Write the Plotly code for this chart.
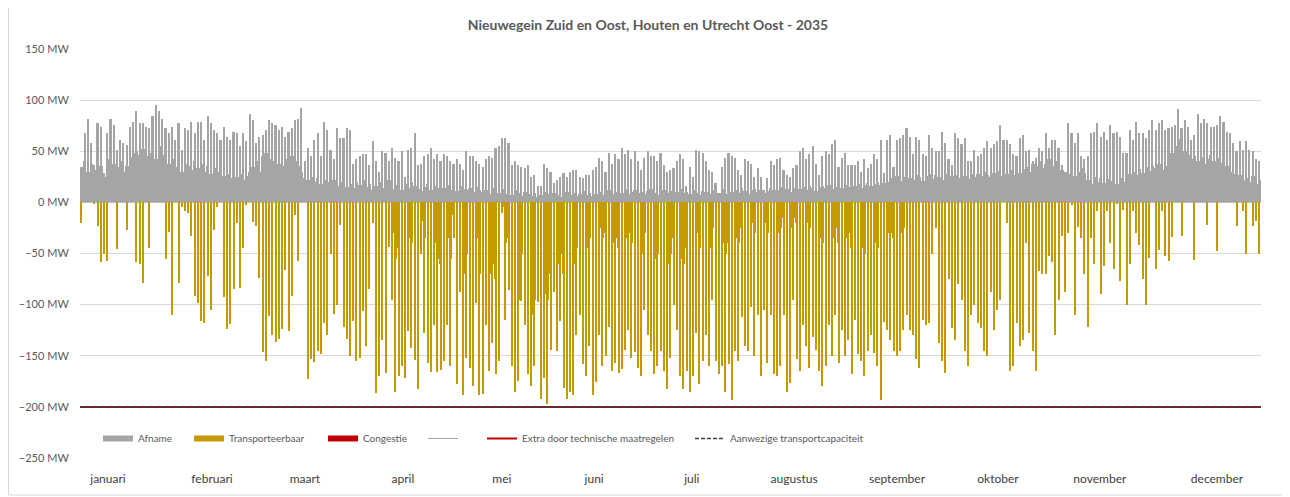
import plotly.graph_objects as go

# ---------------- data (daily values, MW) ----------------
afname_piek = [
    35,68,82,58,37,78,74,29,68,82,76,51,61,58,56,74,79,89,78,78,74,73,84,95,89,82,73,68,74,61,78,51,73,71,79,68,79,79,61,84,78,71,68,61,74,64,61,69,68,55,68,60,86,81,58,64,66,71,81,78,76,71,74,
    64,69,73,81,82,92,40,53,45,61,68,45,79,71,51,42,73,63,63,73,71,38,42,45,47,47,37,60,40,30,50,48,40,53,43,40,50,25,51,53,68,37,38,45,47,53,42,47,40,47,45,40,38,42,38,32,50,45,45,40,38,
    35,42,45,43,53,55,63,63,58,37,40,37,35,34,37,25,27,16,16,38,34,30,19,22,25,29,25,30,32,32,25,24,27,27,32,35,43,40,30,48,38,47,42,53,47,51,42,50,40,32,43,50,45,45,40,48,37,30,32,34,40,47,42,
    16,35,25,51,50,48,40,32,30,19,9,35,43,48,45,43,32,27,42,40,38,25,34,25,12,24,40,37,42,43,32,27,25,34,37,50,53,42,47,55,38,27,45,50,47,57,61,35,43,48,37,37,37,40,30,42,34,38,47,42,61,29,
    61,66,35,61,63,66,73,64,47,64,61,47,45,66,53,50,50,69,58,42,37,68,63,57,63,40,40,51,45,47,53,60,53,57,60,76,61,61,57,47,45,63,66,50,51,40,43,53,50,68,53,61,61,53,37,30,78,68,58,68,45,42,
    45,68,69,78,64,69,61,76,68,69,64,48,48,71,61,79,68,68,63,71,81,71,78,81,71,73,74,76,91,73,81,74,61,66,86,78,82,78,74,74,76,84,79,69,68,58,50,60,51,60,51,50,42,40,
]

afname_basis = [
    35,40,30,38,32,28,36, 25,42,45,38,35,40,30, 36,44,48,50,46,52,45, 48,50,42,55,46,40,38,
    42,35,40,30,38,36,32, 40,34,38,30,36,28,34, 30,35,26,28,24,30,25, 28,22,26,30,35,40,30,
    45,48,42,40,44,38,36,
    42,38,45,40,36,30,24, 22,25,20,24,18,22,20, 18,22,16,20,24,15,18, 14,20,17,22,15,18,12,
    16,20,14,18,22,13,17, 15,12,18,14,20,16,13, 11,15,18,12,16,14,10, 14,17,12,15,11,16,13,
    12,14,10,15,12,
    10,12,8,14,11,9,13, 8,10,7,12,9,6,10, 8,6,9,5,7,10,8, 6,9,7,5,8,10,7, 9,6,8,11,7,9,6,
    8,10,7,9,12,8,10, 11,9,13,8,10,12,9, 10,8,11,13,9,7,10, 12,9,11,8,10,13,9,
    10,8,12,9,7,11,10, 8,12,10,9,13,8,11, 10,12,9,14,11,8,12, 13,10,12,9,11,14,12,
    12,15,11,13,10,14,16, 13,15,12,16,14,11,15, 16,14,17,13,15,18,14, 17,15,19,16,18,14,17,
    19,16,18,20,17,19,
    20,24,22,26,21,25,23, 24,22,27,25,21,26,28, 23,27,25,22,28,24,26, 27,24,29,26,23,28,25,
    28,26,30,27,25,29,31, 26,30,28,32,27,31,29, 33,35,30,38,36,40,34, 38,42,36,40,35,32,30,
    28,32,26,30,34,29,
    22,18,25,20,24,19,23, 21,25,18,24,20,26,28, 30,27,33,29,35,31,36, 34,38,32,36,42,48,55,
    62,58,50,46,42,45,40, 44,38,42,46,40,43,39, 41,36,30,28,25,27,22, 24,20,26,18,22,
]

# deepest hour of each day
transporteerbaar = [
    -20,0,0,0,-1,-23,-58,-50,-57,0, 0,-46,0,0,-27,0,0,-58,-60,-79, 0,-45,0,0,0,0,-55,-29,-110,0,
    -79,-5,-8,-10,-33,-92,-98,-116,-118,-72, -105,-27,-5,0,-93,-124,-119,-85,-20,-84,
    -45,-3,0,-19,-23,-74,-146,-155,-111,-130, -137,-134,-124,
    -66,-126,-92,-12,-57,0,0,-173,-153,-156, -145,-148,-118,-130,-50,-109,-100,-22,-122,-134,
    -150,-116,-155,-152,-106,-140,-85,-20,-186,-170, -135,-167,-44,-95,-185,-170,-160,-172,-126,-142,
    -154,-183,-50,-128,-157,-166,-120,-166,-164,-155, -120,-160,-35,-178,-88,-188,-152,-162,-180,-98,
    -188,
    -187,-120,-165,-138,-168,-155,-10,-115,-86,-160, -185,-175,-96,-120,-168,-180,-160,-97,-192,-172,
    -197,-144,-88,-145,-116,-182,-192,-185,-188,-130, -110,-158,-170,-140,-188,-176,-130,-160,-150,-122,
    -165,-157,-167,-163,-144,-125,-152,-146,-162,-170, -105,-130,-145,-168,-160,-145,-165,-183,-152,-100,
    -125,-170,-183,
    -165,-185,-170,-128,-178,-155,-130,-160,-95,-155, -168,-160,-185,-158,-193,-145,-155,-112,-140,-145,
    -102,-150,-110,-170,-105,-157,-110,-168,-170,-160, -110,-185,-177,-95,-153,-165,-120,-140,-162,-132,
    -144,-165,-180,-160,-120,-150,-110,-157,-125,-150, -135,-168,-115,-148,-155,-170,-145,-130,-147,-160,
    -193,-117,
    -125,-135,-145,-150,-145,-125,-110,-125,-130,-153, -162,-115,-120,-118,-50,-25,-138,-155,-167,-75,
    -123,-135,-80,-95,-145,-160,-110,-100,-118,-123, -145,-150,-88,-125,-105,-95,0,-20,-165,-160,
    -118,-140,-135,-40,-128,-145,-165,-67,-70,-70, -52,-58,-130,-95,-33,-88,-30,-3,-110,-24,
    -35,-70,
    -122,-35,-60,-8,-90,-62,-8,-40,-65,-2, -77,-7,-100,-60,-8,-30,-42,-75,-100,-54,
    0,-65,-47,-8,-52,-57,-34,0,0,-33, 0,0,0,-56,0,0,0,-22,0,0,
    -48,0,0,0,0,0,-23,0,-8,-50, 0,-23,-18,-50,
]

# depth to which the daytime block is (nearly) solid, spring/summer days 95..254
transporteerbaar_blok_startdag = 95
transporteerbaar_blok = [
    -15,-30,-55,-45,-40,-60,-35,-40,-50,-65,-18,-35,-50,-60,-40,-55,-60,-45,-35,-55,-12,-60,-30,-70,-50,-55,-65,-35,-70,
    -80,-55,-70,-60,-75,-65,-5,-40,-35,-90, -100,-95,-50,-60,-85,-110,-95,-55,-100,-90,
    -95,-70,-45,-60,-50,-70,-75,-65,-60,-45, -30,-40,-45,-35,-50,-40,-25,-35,-30,-25,
    -40,-35,-45,-40,-35,-30,-40,-35,-45,-50, -30,-40,-45,-55,-50,-45,-55,-60,-50,-35,
    -45,-55,-60,
    -45,-50,-40,-30,-45,-40,-35,-45,-25,-40, -45,-40,-50,-40,-45,-35,-40,-25,-30,-35,
    -20,-30,-25,-35,-20,-30,-20,-35,-30,-25, -15,-30,-25,-15,-20,-25,-15,-20,-25,-20,
    -25,-35,-40,-35,-25,-35,-25,-40,-30,-35, -30,-45,-25,-40,-45,-50,-40,-35,-40,-45,
    -50,-30,
    -30,-30,-35,-35,-30,-25,
]

congestie = []                       # no congestion in this scenario
aanwezige_capaciteit = -200          # MW
extra_technische_maatregelen = -200  # MW

maanden = ["januari", "februari", "maart", "april", "mei", "juni",
           "juli", "augustus", "september", "oktober", "november", "december"]
dagen_in_jaar = 365

# label placement along the day axis (layout only)
maand_label_pos = [8.65, 40.8, 69.5, 99.8, 130.4, 158.9, 189.1, 220.7, 252.5, 283.7, 315.2, 351.4]

# ---------------- styling / geometry ----------------
GRAY = "#A5A5A5"
GOLD = "#C39A00"
RED = "#C00000"
DARK = "#404040"
TXT = "#595959"
FONT = "Lato"
DASH = "4px,2px"

OFF = 8                       # page body margin of the html page
W, H = 1290 - OFF, 497 - OFF  # figure size so it fits the window
# plot area in page pixels
PL, PR, PT, PB = 80, 1261, 49, 458

def px_x(px):  # page pixel -> paper x
    return (px - PL) / (PR - PL)

def px_y(py):  # page pixel -> paper y
    return (PB - py) / (PB - PT)

def day_axis(values, start=0):
    return [start + d + 0.5 for d in range(len(values))]

fig = go.Figure()

fig.add_trace(go.Bar(x=day_axis(afname_basis), y=afname_basis, width=1.0,
                     marker=dict(color=GRAY, line=dict(width=0)), showlegend=False, hoverinfo="skip"))
fig.add_trace(go.Bar(x=day_axis(afname_piek), y=afname_piek, width=0.5,
                     marker=dict(color=GRAY, line=dict(width=0)), showlegend=False, hoverinfo="skip"))
fig.add_trace(go.Bar(x=day_axis(transporteerbaar_blok, transporteerbaar_blok_startdag), y=transporteerbaar_blok,
                     width=0.8, marker=dict(color=GOLD, line=dict(width=0)), showlegend=False, hoverinfo="skip"))
fig.add_trace(go.Bar(x=day_axis(transporteerbaar), y=transporteerbaar, width=0.42,
                     marker=dict(color=GOLD, line=dict(width=0)), showlegend=False, hoverinfo="skip"))
fig.add_trace(go.Bar(x=day_axis(congestie), y=congestie,
                     marker=dict(color=RED, line=dict(width=0)), showlegend=False, hoverinfo="skip"))

fig.add_trace(go.Scatter(x=[0, dagen_in_jaar], y=[extra_technische_maatregelen] * 2, mode="lines",
                         line=dict(color=RED, width=2), showlegend=False, hoverinfo="skip"))
fig.add_trace(go.Scatter(x=[0, dagen_in_jaar], y=[aanwezige_capaciteit] * 2, mode="lines",
                         line=dict(color=DARK, width=1.6, dash="6px,2px"), showlegend=False, hoverinfo="skip"))

# legend entries (Excel-style swatches), one legend each so they sit like the original
legend_items = [
    ("Afname", GRAY, 6, "solid", "legend", 98),
    ("Transporteerbaar", GOLD, 6, "solid", "legend2", 189),
    ("Congestie", RED, 6, "solid", "legend3", 323),
    (" ", "#A5A5A5", 1, "solid", "legend4", 423),
    ("Extra door technische maatregelen", RED, 2, "solid", "legend5", 482),
    ("Aanwezige transportcapaciteit", DARK, 1.5, DASH, "legend6", 690),
]
legend_layout = {}
for name, col, w, dash, leg, px in legend_items:
    fig.add_trace(go.Scatter(x=[None], y=[None], mode="lines", name=name, legend=leg,
                             line=dict(color=col, width=w, dash=dash), hoverinfo="skip"))
    legend_layout[leg] = dict(
        x=px_x(px), xanchor="left", y=px_y(438.5), yanchor="middle",
        orientation="h", bgcolor="rgba(0,0,0,0)", borderwidth=0,
        font=dict(family=FONT, size=10, color=TXT), itemwidth=30,
    )

fig.update_layout(
    width=W, height=H,
    margin=dict(l=PL - OFF, r=W - (PR - OFF), t=PT - OFF, b=H - (PB - OFF), pad=0),
    paper_bgcolor="white", plot_bgcolor="white",
    barmode="overlay", bargap=0,
    title=dict(text="<b>Nieuwegein Zuid en Oost, Houten en Utrecht Oost - 2035</b>",
               x=(648 - OFF) / W, xref="container", xanchor="center",
               y=1 - (25 - OFF) / H, yref="container", yanchor="middle",
               font=dict(family=FONT, size=14, color=TXT)),
    font=dict(family=FONT, color=TXT),
    hovermode=False,
    **legend_layout,
)

fig.update_xaxes(range=[0, dagen_in_jaar], showgrid=False, zeroline=False, showline=False,
                 tickmode="array", tickvals=maand_label_pos, ticktext=maanden,
                 ticks="outside", ticklen=10, tickcolor="rgba(0,0,0,0)",
                 tickfont=dict(family=FONT, size=12, color=DARK), fixedrange=True)
fig.update_yaxes(range=[-250, 150], dtick=50, tick0=0, ticksuffix=" MW",
                 showgrid=True, gridcolor="#D9D9D9", gridwidth=1,
                 zeroline=True, zerolinecolor="#BFBFBF", zerolinewidth=1, showline=False,
                 ticks="outside", ticklen=8, tickcolor="rgba(0,0,0,0)",
                 tickfont=dict(family=FONT, size=11, color=TXT), fixedrange=True)

# chart frame (left edge at page x=6)
fig.add_shape(type="rect", xref="paper", yref="paper",
              x0=px_x(8.5), x1=px_x(1284), y0=px_y(495), y1=px_y(2),
              line=dict(color="#D9D9D9", width=1), fillcolor="rgba(0,0,0,0)", layer="below")

fig.write_html("out.html")
